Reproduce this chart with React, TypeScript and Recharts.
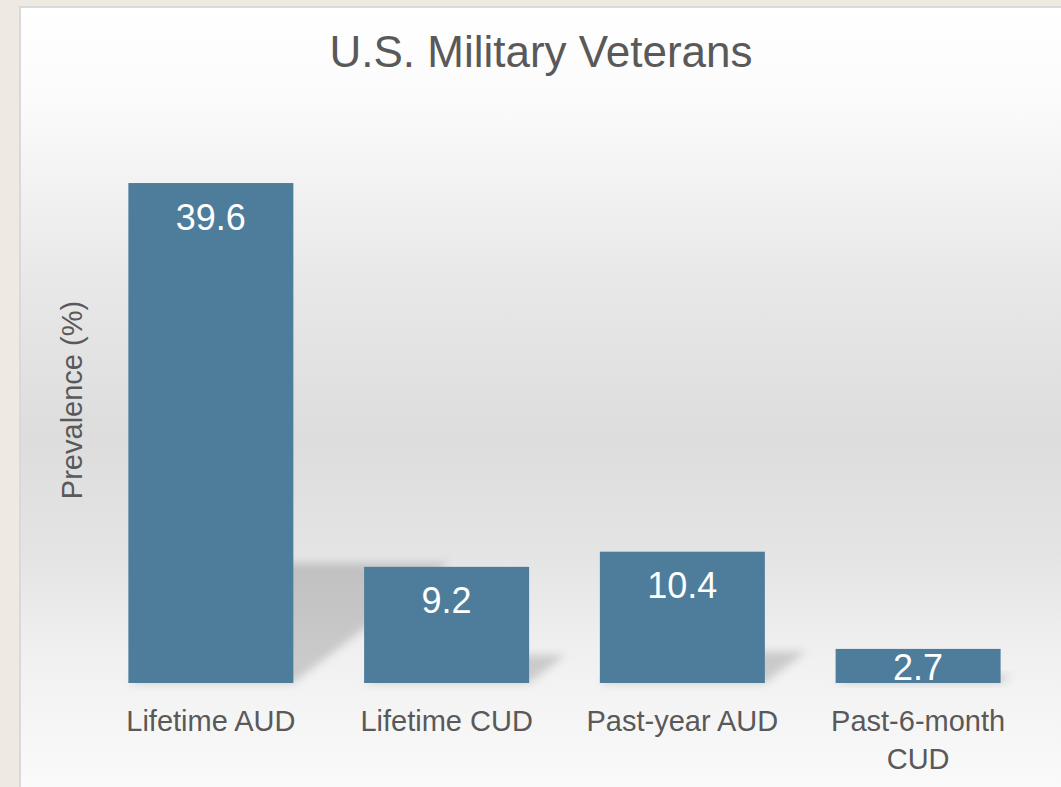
import { BarChart, Bar, XAxis, YAxis, LabelList } from "recharts";

const categories = ["Lifetime AUD", "Lifetime CUD", "Past-year AUD", "Past-6-month CUD"];
const prevalence = [39.6, 9.2, 10.4, 2.7];

const data = categories.map((name, i) => ({ name, value: prevalence[i] }));

const BAR_COLOR = "#4E7C9B";
const TEXT_COLOR = "#595959";
const FONT = "'Liberation Sans', Arial, sans-serif";

// bar with a perspective shadow falling back-right
const ShadowBar = (props: any) => {
  const { x, y, width, height, index } = props;
  const bottom = y + height;
  const sh = height * 0.24;
  const dx = sh * 1.3;
  const pts = [
    [x, bottom],
    [x + width, bottom],
    [x + width + dx, bottom - sh],
    [x + dx, bottom - sh],
  ]
    .map((p) => p.join(","))
    .join(" ");
  const fid = `shadowBlur${index}`;
  return (
    <g>
      <defs>
        <filter id={fid} x="-50%" y="-50%" width="200%" height="200%">
          <feGaussianBlur stdDeviation={4} />
        </filter>
      </defs>
      <polygon points={pts} fill="#000" fillOpacity={0.16} filter={`url(#${fid})`} />
      <rect x={x} y={y} width={width} height={height} fill={BAR_COLOR} />
    </g>
  );
};

const ValueLabel = (props: any) => {
  const { x, y, width, height, value } = props;
  const cy = Math.min(y + 34, y + height - 16);
  return (
    <text
      x={x + width / 2}
      y={cy}
      textAnchor="middle"
      dominantBaseline="central"
      fill="#FFFFFF"
      fontSize={36}
      fontFamily={FONT}
    >
      {value}
    </text>
  );
};

// simple word wrap: keep lines to ~14 characters
const wrap = (s: string, max = 14) => {
  const lines: string[] = [];
  let cur = "";
  s.split(" ").forEach((w) => {
    const next = cur ? cur + " " + w : w;
    if (next.length > max && cur) {
      lines.push(cur);
      cur = w;
    } else cur = next;
  });
  if (cur) lines.push(cur);
  return lines;
};

const CategoryTick = (props: any) => {
  const { x, y, payload } = props;
  const lines = wrap(String(payload.value));
  return (
    <text
      x={x}
      y={y + 48}
      textAnchor="middle"
      fill={TEXT_COLOR}
      fontSize={29}
      fontFamily={FONT}
    >
      {lines.map((l, i) => (
        <tspan key={i} x={x} dy={i === 0 ? 0 : 38}>
          {l}
        </tspan>
      ))}
    </text>
  );
};

export default function App() {
  return (
    <div
      style={{
        position: "absolute",
        left: 0,
        top: 0,
        width: 1061,
        height: 787,
        background: "#EEEAE2",
        overflow: "hidden",
      }}
    >
      <div
        style={{
          position: "absolute",
          left: 19,
          top: 6,
          width: 1040,
          height: 779,
          borderTop: "2px solid #D9D9D9",
          borderLeft: "2px solid #D9D9D9",
          background:
            "linear-gradient(to bottom, #FFFFFF 0%, #FBFBFB 12%, #E8E8E8 35%, #DDDDDD 55%, #E4E4E4 70%, #F1F1F1 84%, #FAFAFA 100%)",
        }}
      >
        <div
          style={{
            position: "absolute",
            left: 0,
            width: 1040,
            top: 22,
            textAlign: "center",
            fontFamily: FONT,
            fontSize: 44,
            lineHeight: "44px",
            color: TEXT_COLOR,
          }}
        >
          U.S. Military Veterans
        </div>
        <div
          style={{
            position: "absolute",
            left: 51,
            top: 392,
            transform: "translate(-50%, -50%) rotate(-90deg)",
            whiteSpace: "nowrap",
            fontFamily: FONT,
            fontSize: 29,
            lineHeight: "29px",
            color: TEXT_COLOR,
          }}
        >
          Prevalence (%)
        </div>
        <BarChart
          width={1040}
          height={779}
          data={data}
          margin={{ top: 170, right: 25, bottom: 44, left: 72 }}
          barCategoryGap="15%"
        >
          <XAxis
            dataKey="name"
            axisLine={false}
            tickLine={false}
            tickSize={0}
            tickMargin={0}
            height={60}
            interval={0}
            tick={<CategoryTick />}
          />
          <YAxis hide domain={[0, 40]} />
          <Bar dataKey="value" shape={<ShadowBar />} isAnimationActive={false}>
            <LabelList dataKey="value" content={<ValueLabel />} />
          </Bar>
        </BarChart>
      </div>
    </div>
  );
}
